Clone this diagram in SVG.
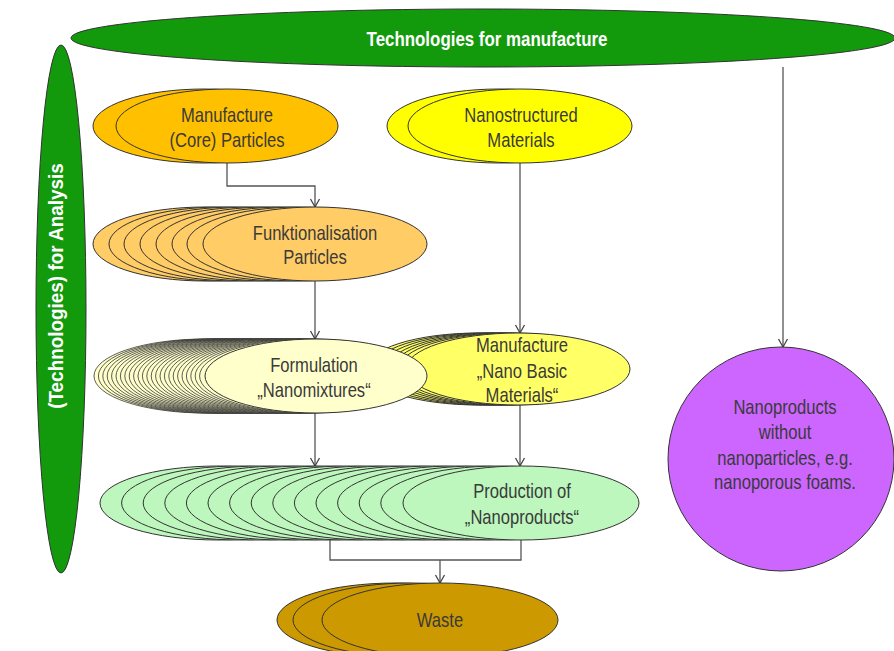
<svg xmlns="http://www.w3.org/2000/svg" width="894" height="651" viewBox="0 0 894 651">
<defs>
<style>
.t{font-family:"Liberation Sans",Arial,sans-serif;font-size:20px;fill:#3a3a3a;text-anchor:middle}
.tb{font-family:"Liberation Sans",Arial,sans-serif;font-size:20px;font-weight:bold;fill:#ffffff;text-anchor:middle}
.e{stroke:#333333;stroke-width:1}
.ef{stroke:#333333;stroke-width:0.8}
.green{fill:#139a0c}
.core{fill:#ffc000}
.nstr{fill:#ffff00}
.funk{fill:#ffcc66}
.form{fill:#ffffcc}
.nbm{fill:#ffff66}
.prod{fill:#bdf7bd}
.waste{fill:#cc9900}
.mag{fill:#cc66ff}
.c{fill:none;stroke:#555555;stroke-width:1.3}
</style>
<marker id="arr" markerUnits="userSpaceOnUse" markerWidth="12" markerHeight="12" refX="9" refY="6" orient="auto" viewBox="0 0 12 12">
<path d="M1,1.5 L9,6 L1,10.5" fill="none" stroke="#444444" stroke-width="1.3"/>
</marker>
</defs>

<g id="connectors">
<path class="c" d="M227,163 V186 H315 V207" marker-end="url(#arr)"/>
<path class="c" d="M520,163 V333" marker-end="url(#arr)"/>
<path class="c" d="M315,281 V339" marker-end="url(#arr)"/>
<path class="c" d="M315,413 V466" marker-end="url(#arr)"/>
<path class="c" d="M520,405 V466" marker-end="url(#arr)"/>
<path class="c" d="M330,540 V560 H521 V540"/>
<path class="c" d="M440,560 V583" marker-end="url(#arr)"/>
<path class="c" d="M783,67 V347" marker-end="url(#arr)"/>
</g>

<g id="tech-manufacture">
<ellipse class="e green" cx="483" cy="38" rx="412" ry="29"/>
<text class="tb" transform="matrix(0.845,0,0,1,487,46)">Technologies for manufacture</text>
</g>

<g id="tech-analysis">
<ellipse class="e green" cx="61" cy="309" rx="25" ry="264"/>
<text class="tb" transform="translate(63,286) rotate(-90) scale(0.9,1)" style="font-size:21px">(Technologies) for Analysis</text>
</g>

<g id="core-particles">
<ellipse class="e core" cx="204" cy="126" rx="111" ry="37"/>
<ellipse class="e core" cx="227" cy="126" rx="111" ry="37"/>
<text class="t" transform="matrix(0.83,0,0,1,227,122)">Manufacture</text>
<text class="t" transform="matrix(0.83,0,0,1,227,147)">(Core) Particles</text>
</g>

<g id="nanostructured">
<ellipse class="e nstr" cx="499" cy="126" rx="112" ry="37"/>
<ellipse class="e nstr" cx="520" cy="126" rx="112" ry="37"/>
<text class="t" transform="matrix(0.83,0,0,1,521,122)">Nanostructured</text>
<text class="t" transform="matrix(0.83,0,0,1,521,147)">Materials</text>
</g>

<g id="funktionalisation">
<ellipse class="e funk" cx="205" cy="244" rx="112" ry="37"/>
<ellipse class="e funk" cx="221" cy="244" rx="112" ry="37"/>
<ellipse class="e funk" cx="236" cy="244" rx="112" ry="37"/>
<ellipse class="e funk" cx="252" cy="244" rx="112" ry="37"/>
<ellipse class="e funk" cx="268" cy="244" rx="112" ry="37"/>
<ellipse class="e funk" cx="284" cy="244" rx="112" ry="37"/>
<ellipse class="e funk" cx="299" cy="244" rx="112" ry="37"/>
<ellipse class="e funk" cx="315" cy="244" rx="112" ry="37"/>
<text class="t" transform="matrix(0.83,0,0,1,315,240)">Funktionalisation</text>
<text class="t" transform="matrix(0.83,0,0,1,315,264)">Particles</text>
</g>

<g id="nano-basic">
<ellipse class="e nbm" cx="478" cy="369" rx="112" ry="36"/>
<ellipse class="e nbm" cx="485" cy="369" rx="112" ry="36"/>
<ellipse class="e nbm" cx="492" cy="369" rx="112" ry="36"/>
<ellipse class="e nbm" cx="499" cy="369" rx="112" ry="36"/>
<ellipse class="e nbm" cx="505" cy="369" rx="112" ry="36"/>
<ellipse class="e nbm" cx="511" cy="369" rx="112" ry="36"/>
<ellipse class="e nbm" cx="518" cy="369" rx="112" ry="36"/>
<text class="t" transform="matrix(0.83,0,0,1,522,352)">Manufacture</text>
<text class="t" transform="matrix(0.83,0,0,1,522,378)">„Nano Basic</text>
<text class="t" transform="matrix(0.83,0,0,1,522,402)">Materials“</text>
</g>

<g id="formulation">
<ellipse class="ef form" cx="205" cy="376" rx="111" ry="37"/>
<ellipse class="ef form" cx="209.4" cy="376" rx="111" ry="37"/>
<ellipse class="ef form" cx="213.8" cy="376" rx="111" ry="37"/>
<ellipse class="ef form" cx="218.2" cy="376" rx="111" ry="37"/>
<ellipse class="ef form" cx="222.6" cy="376" rx="111" ry="37"/>
<ellipse class="ef form" cx="227" cy="376" rx="111" ry="37"/>
<ellipse class="ef form" cx="231.4" cy="376" rx="111" ry="37"/>
<ellipse class="ef form" cx="235.8" cy="376" rx="111" ry="37"/>
<ellipse class="ef form" cx="240.2" cy="376" rx="111" ry="37"/>
<ellipse class="ef form" cx="244.6" cy="376" rx="111" ry="37"/>
<ellipse class="ef form" cx="249" cy="376" rx="111" ry="37"/>
<ellipse class="ef form" cx="253.4" cy="376" rx="111" ry="37"/>
<ellipse class="ef form" cx="257.8" cy="376" rx="111" ry="37"/>
<ellipse class="ef form" cx="262.2" cy="376" rx="111" ry="37"/>
<ellipse class="ef form" cx="266.6" cy="376" rx="111" ry="37"/>
<ellipse class="ef form" cx="271" cy="376" rx="111" ry="37"/>
<ellipse class="ef form" cx="275.4" cy="376" rx="111" ry="37"/>
<ellipse class="ef form" cx="279.8" cy="376" rx="111" ry="37"/>
<ellipse class="ef form" cx="284.2" cy="376" rx="111" ry="37"/>
<ellipse class="ef form" cx="288.6" cy="376" rx="111" ry="37"/>
<ellipse class="ef form" cx="293" cy="376" rx="111" ry="37"/>
<ellipse class="ef form" cx="297.4" cy="376" rx="111" ry="37"/>
<ellipse class="ef form" cx="301.8" cy="376" rx="111" ry="37"/>
<ellipse class="ef form" cx="306.2" cy="376" rx="111" ry="37"/>
<ellipse class="ef form" cx="310.6" cy="376" rx="111" ry="37"/>
<ellipse class="e form" cx="316" cy="376" rx="111" ry="37"/>
<text class="t" transform="matrix(0.83,0,0,1,314,372)">Formulation</text>
<text class="t" transform="matrix(0.83,0,0,1,314,397)">„Nanomixtures“</text>
</g>

<g id="production">
<ellipse class="e prod" cx="218" cy="503" rx="118" ry="37"/>
<ellipse class="e prod" cx="239.6" cy="503" rx="118" ry="37"/>
<ellipse class="e prod" cx="261.2" cy="503" rx="118" ry="37"/>
<ellipse class="e prod" cx="282.8" cy="503" rx="118" ry="37"/>
<ellipse class="e prod" cx="304.4" cy="503" rx="118" ry="37"/>
<ellipse class="e prod" cx="326" cy="503" rx="118" ry="37"/>
<ellipse class="e prod" cx="347.6" cy="503" rx="118" ry="37"/>
<ellipse class="e prod" cx="369.2" cy="503" rx="118" ry="37"/>
<ellipse class="e prod" cx="390.8" cy="503" rx="118" ry="37"/>
<ellipse class="e prod" cx="412.4" cy="503" rx="118" ry="37"/>
<ellipse class="e prod" cx="434" cy="503" rx="118" ry="37"/>
<ellipse class="e prod" cx="455.6" cy="503" rx="118" ry="37"/>
<ellipse class="e prod" cx="477.2" cy="503" rx="118" ry="37"/>
<ellipse class="e prod" cx="498.8" cy="503" rx="118" ry="37"/>
<ellipse class="e prod" cx="521" cy="503" rx="118" ry="37"/>
<text class="t" transform="matrix(0.83,0,0,1,522,498)">Production of</text>
<text class="t" transform="matrix(0.83,0,0,1,522,524)">„Nanoproducts“</text>
</g>

<g id="waste">
<ellipse class="e waste" cx="395" cy="620" rx="118" ry="37"/>
<ellipse class="e waste" cx="411" cy="620" rx="118" ry="37"/>
<ellipse class="e waste" cx="440" cy="620" rx="118" ry="37"/>
<text class="t" transform="matrix(0.83,0,0,1,440,627)">Waste</text>
</g>

<g id="nanoproducts-without">
<ellipse class="e mag" cx="781" cy="459" rx="113" ry="112"/>
<text class="t" transform="matrix(0.83,0,0,1,785,414)">Nanoproducts</text>
<text class="t" transform="matrix(0.83,0,0,1,785,439)">without</text>
<text class="t" transform="matrix(0.83,0,0,1,785,465)">nanoparticles, e.g.</text>
<text class="t" transform="matrix(0.83,0,0,1,785,489)">nanoporous foams.</text>
</g>
</svg>
